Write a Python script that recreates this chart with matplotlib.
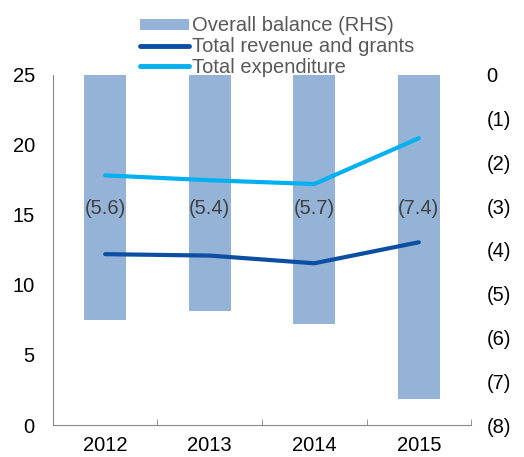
import matplotlib
matplotlib.use("Agg")
import matplotlib.pyplot as plt
import numpy as np
from matplotlib.patches import Patch
from matplotlib.lines import Line2D

plt.rcParams['font.family'] = ['Liberation Sans', 'DejaVu Sans']

years = ["2012", "2013", "2014", "2015"]
balance = [-5.6, -5.4, -5.7, -7.4]
revenue = [12.2, 12.1, 11.55, 13.05]
expenditure = [17.83, 17.48, 17.21, 20.48]
left_ticks = [0, 5, 10, 15, 20, 25]
right_ticks = [0, -1, -2, -3, -4, -5, -6, -7, -8]

bar_color = "#95B3D7"
rev_color = "#0B4EA2"
exp_color = "#00B0F0"
FS = 14.5

fig = plt.figure(figsize=(5.24, 4.57), dpi=100)
ax = fig.add_axes([0.101, 0.070, 0.798, 0.766])
ax2 = ax.twinx()

x = np.arange(len(years))
ax2.bar(x, balance, width=0.4, color=bar_color, zorder=1)
for xi, v in zip(x, balance):
    ax2.text(xi, -3.05, f"({abs(v):.1f})", ha="center", va="center",
             fontsize=FS, color="#404040")
ax2.set_ylim(-8, 0)
ax2.set_yticks(right_ticks)
ax2.set_yticklabels(["0" if t == 0 else f"({abs(t)})" for t in right_ticks])

ax.set_zorder(ax2.get_zorder() + 1)
ax.patch.set_visible(False)
ax.plot(x, revenue, color=rev_color, lw=3, solid_capstyle="round", solid_joinstyle="miter")
ax.plot(x, expenditure, color=exp_color, lw=3, solid_capstyle="round", solid_joinstyle="miter")
ax.set_ylim(0, 25)
ax.set_yticks(left_ticks)
ax.set_yticks([25], minor=True)
ax.set_xlim(-0.5, 3.5)
ax.set_xticks(x)
ax.set_xticklabels(years)
ax.set_xticks(np.arange(-0.5, 4.0, 1.0), minor=True)
ax.tick_params(axis="x", which="major", length=0, pad=8, labelsize=FS)
ax.tick_params(axis="x", which="minor", direction="in", length=4, color="#888888")
ax.tick_params(axis="y", which="major", length=0, pad=13, labelsize=FS)
ax.tick_params(axis="y", which="minor", direction="in", length=4, color="#888888")
ax2.tick_params(axis="y", length=0, pad=11, labelsize=FS)

for a in (ax, ax2):
    a.spines["top"].set_visible(False)
    a.spines["right"].set_visible(False)
ax2.spines["left"].set_visible(False)
ax2.spines["bottom"].set_visible(False)
ax.spines["left"].set_color("#888888")
ax.spines["bottom"].set_color("#888888")

handles = [Patch(facecolor=bar_color, edgecolor="none"),
           Line2D([0], [0], color=rev_color, lw=3.5, solid_capstyle="round"),
           Line2D([0], [0], color=exp_color, lw=3.5, solid_capstyle="round")]
labels = ["Overall balance (RHS)", "Total revenue and grants", "Total expenditure"]
leg = fig.legend(handles, labels, loc="upper left", bbox_to_anchor=(0.251, 0.982),
                 frameon=False, fontsize=FS, labelspacing=0.08, handlelength=2.45,
                 handletextpad=0.15, handleheight=0.45, borderaxespad=0.0)
for t in leg.get_texts():
    t.set_color("#595959")

fig.savefig("out.png", dpi=100)
